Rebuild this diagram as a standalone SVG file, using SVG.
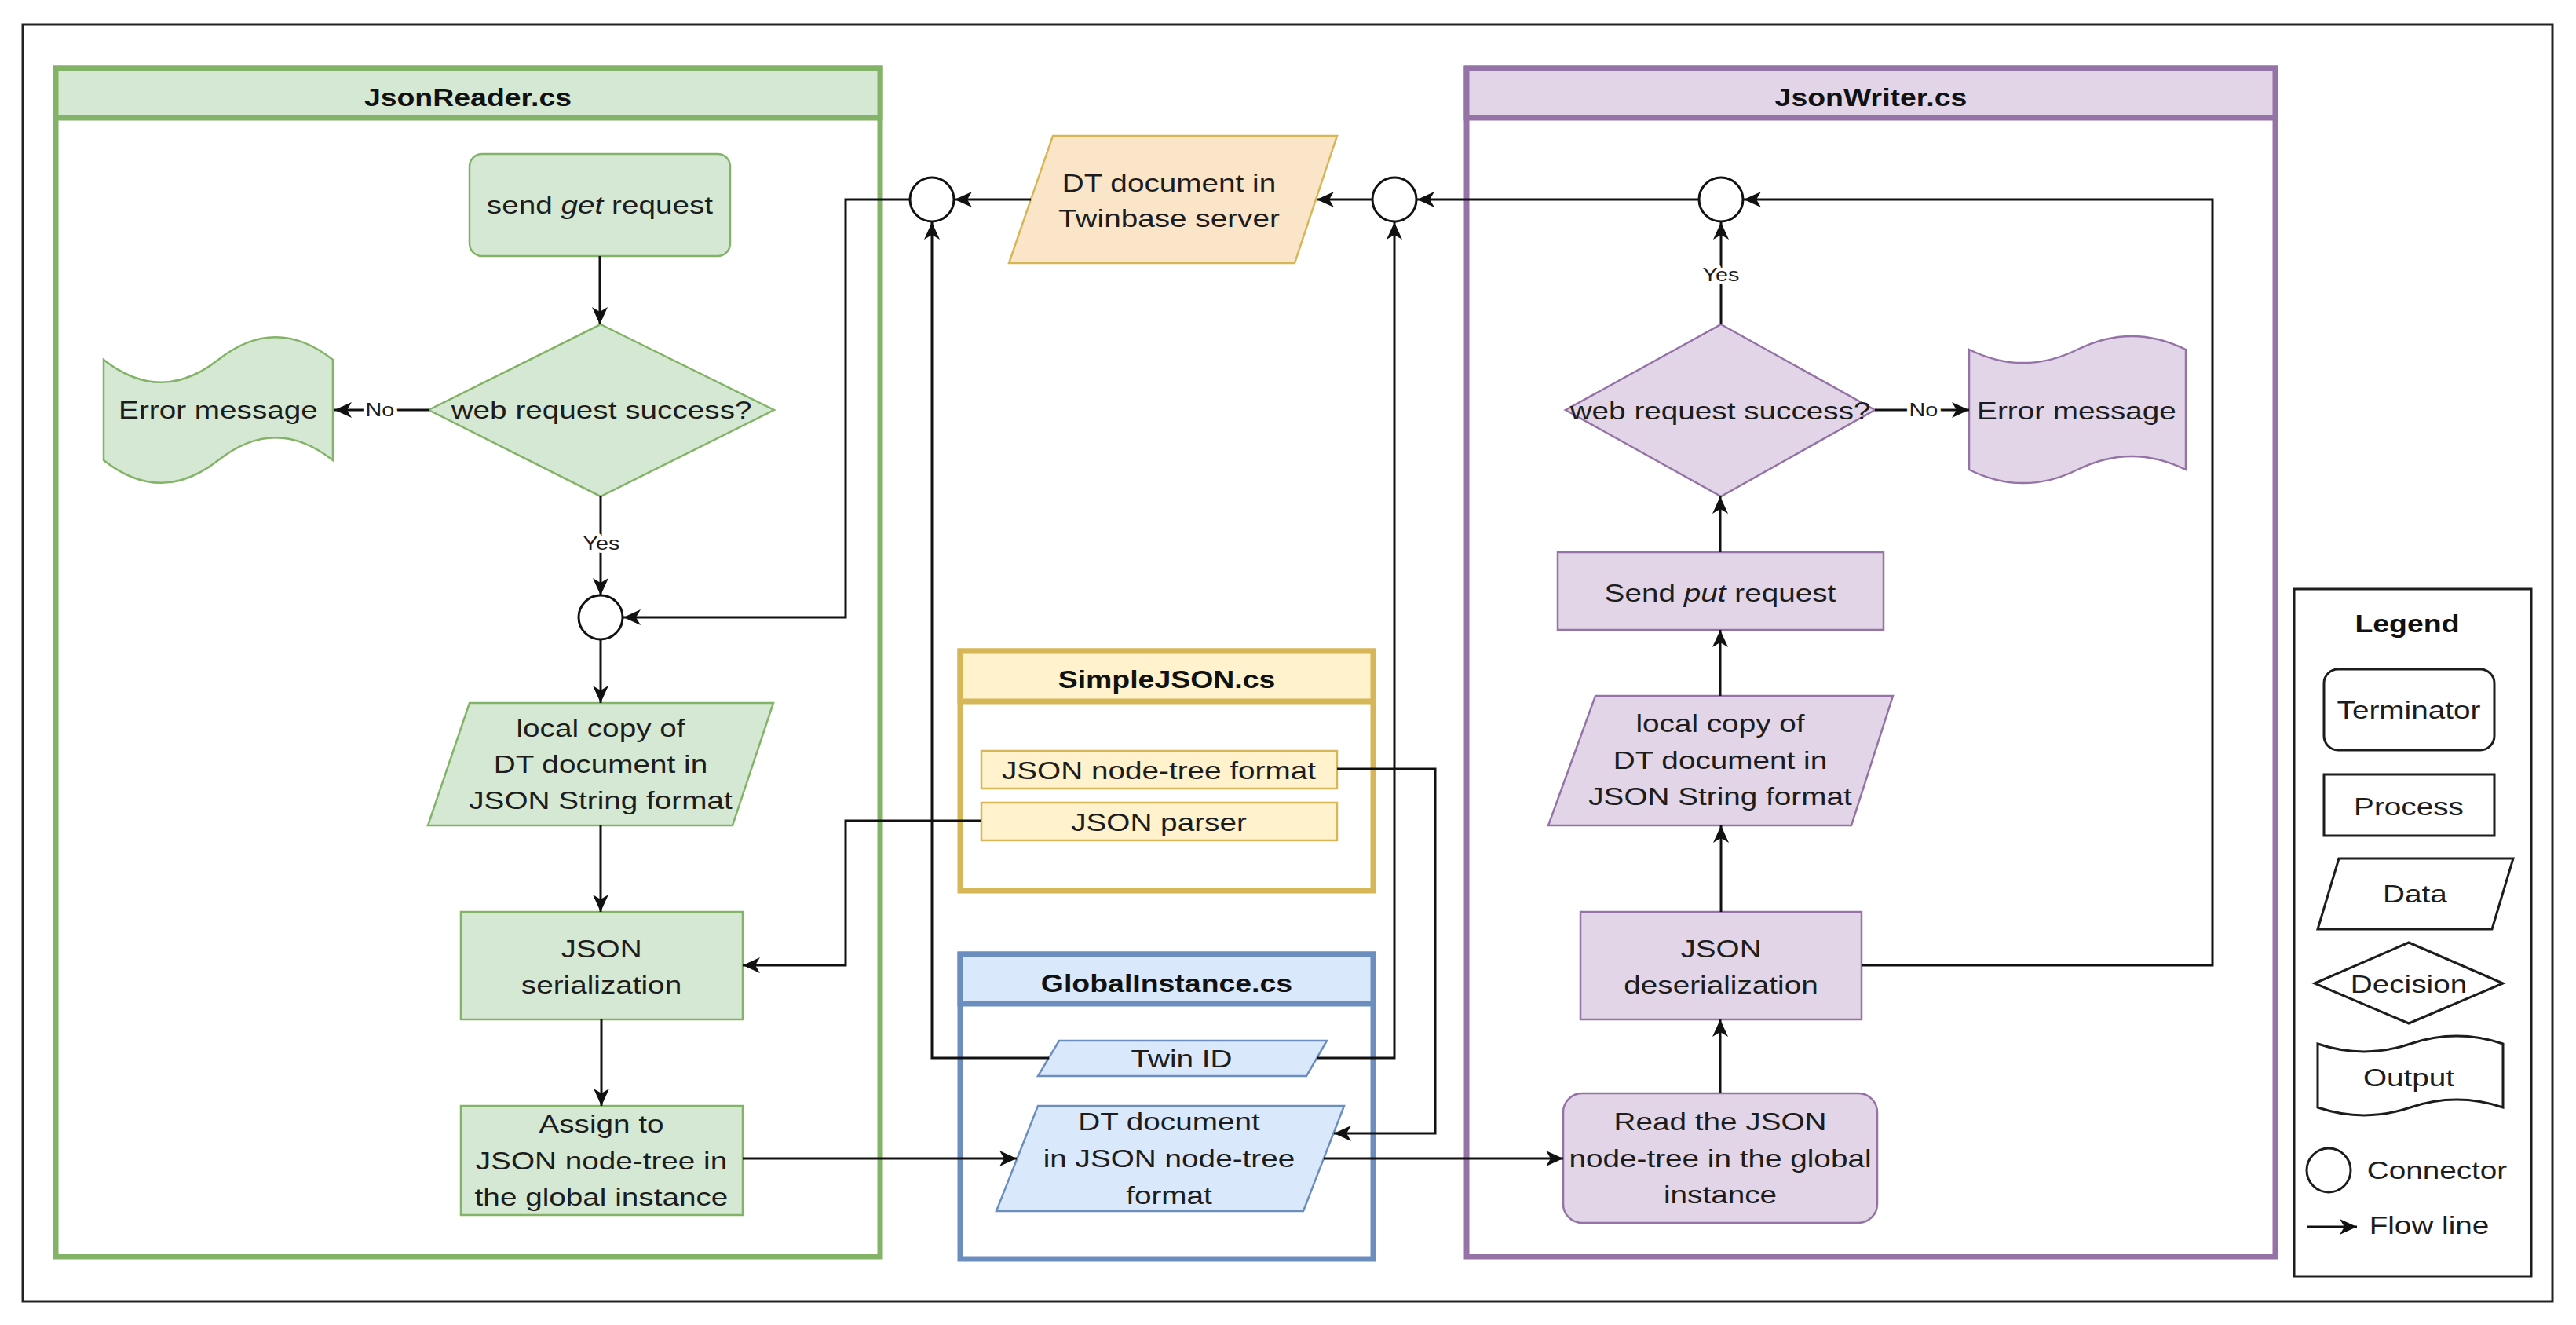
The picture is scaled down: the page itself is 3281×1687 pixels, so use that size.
<svg xmlns="http://www.w3.org/2000/svg" width="3281" height="1687" viewBox="0 0 3281 1687">
<defs>
<style>
text { font-family: "Liberation Sans", Arial, Helvetica, sans-serif; font-size: 32px; fill: #1d1d1d; text-anchor: middle; transform-box: fill-box; transform-origin: center; transform: scaleX(1.21); }
.title { font-weight: bold; font-size: 32px; fill: #111; transform: scaleX(1.17); }
.lbl { font-size: 24px; stroke: #ffffff; stroke-width: 8px; paint-order: stroke; stroke-linejoin: round; transform: scaleX(1.2); }
.g { fill: #d5e8d4; stroke: #82b366; stroke-width: 2.5; }
.p { fill: #e1d5e7; stroke: #9673a6; stroke-width: 2.5; }
.o { fill: #fbe5c8; stroke: #d6b656; stroke-width: 2.5; }
.y { fill: #fff2cc; stroke: #d6b656; stroke-width: 2.5; }
.b { fill: #dae8fc; stroke: #6c8ebf; stroke-width: 2.5; }
.cont { fill: #ffffff; stroke-width: 7; }
.leg { fill: #ffffff; stroke: #1d1d1d; stroke-width: 3; }
.conn { fill: #ffffff; stroke: #111; stroke-width: 3; }
.edge { fill: none; stroke: #111; stroke-width: 3; marker-end: url(#arr); }
</style>
<marker id="arr" markerUnits="userSpaceOnUse" markerWidth="24" markerHeight="22" viewBox="0 0 24 22" refX="22" refY="11" orient="auto">
<path d="M0,1 L22,11 L0,21 L6,11 Z" fill="#111"/>
</marker>
</defs>
<rect x="0" y="0" width="3281" height="1687" fill="#ffffff"/>
<rect id="frame" x="29" y="31" width="3222" height="1626" fill="none" stroke="#222" stroke-width="3"/>

<g id="JsonReader">
<rect class="cont" x="71" y="87" width="1050" height="1513" stroke="#82b366"/>
<rect x="71" y="87" width="1050" height="63" fill="#d5e8d4" stroke="#82b366" stroke-width="7"/>
<text class="title" x="596" y="135">JsonReader.cs</text>
</g>
<g id="JsonWriter">
<rect class="cont" x="1868" y="87" width="1030" height="1513" stroke="#9673a6"/>
<rect x="1868" y="87" width="1030" height="63" fill="#e1d5e7" stroke="#9673a6" stroke-width="7"/>
<text class="title" x="2383" y="135">JsonWriter.cs</text>
</g>
<g id="SimpleJSON">
<rect class="cont" x="1223" y="829" width="526" height="305" stroke="#d6b656"/>
<rect x="1223" y="829" width="526" height="64" fill="#fff2cc" stroke="#d6b656" stroke-width="7"/>
<text class="title" x="1486" y="876">SimpleJSON.cs</text>
</g>
<g id="GlobalInstance">
<rect class="cont" x="1223" y="1215" width="526" height="388" stroke="#6c8ebf"/>
<rect x="1223" y="1215" width="526" height="63" fill="#dae8fc" stroke="#6c8ebf" stroke-width="7"/>
<text class="title" x="1486" y="1263">GlobalInstance.cs</text>
</g>

<g id="send-get">
<rect class="g" x="598" y="196" width="332" height="130" rx="16"/>
<text x="764" y="272">send <tspan font-style="italic">get</tspan> request</text>
</g>
<g id="reader-decision">
<polygon class="g" points="765,413 986,522 765,632 546,522"/>
<text x="766" y="533">web request success?</text>
</g>
<g id="reader-error">
<path class="g" d="M132,458 Q205,515.6 278,458 Q351,400.4 424,458 L424,586 Q351,528.4 278,586 Q205,643.6 132,586 Z"/>
<text x="278" y="533">Error message</text>
</g>
<g id="reader-connector">
<circle class="conn" cx="765" cy="786" r="28"/>
</g>
<g id="reader-local-copy">
<polygon class="g" points="598,895 985,895 933,1051 545,1051"/>
<text x="765" y="938">local copy of<tspan x="765" dy="46">DT document in</tspan><tspan x="765" dy="46">JSON String format</tspan></text>
</g>
<g id="serialization">
<rect class="g" x="587" y="1161" width="359" height="137"/>
<text x="766" y="1219">JSON<tspan x="766" dy="46">serialization</tspan></text>
</g>
<g id="assign">
<rect class="g" x="587" y="1408" width="359" height="139"/>
<text x="766" y="1442">Assign to<tspan x="766" dy="47">JSON node-tree in</tspan><tspan x="766" dy="46">the global instance</tspan></text>
</g>

<g id="twinbase">
<polygon class="o" points="1341,173 1703,173 1649,335 1285,335"/>
<text x="1489" y="244">DT document in<tspan x="1489" dy="45">Twinbase server</tspan></text>
</g>
<g id="connector-left"><circle class="conn" cx="1187" cy="254" r="28"/></g>
<g id="connector-mid"><circle class="conn" cx="1776" cy="254" r="28"/></g>
<g id="connector-writer"><circle class="conn" cx="2192" cy="254" r="28"/></g>

<g id="node-tree-format">
<rect class="y" x="1250" y="956" width="453" height="48"/>
<text x="1476" y="992">JSON node-tree format</text>
</g>
<g id="json-parser">
<rect class="y" x="1250" y="1022" width="453" height="48"/>
<text x="1476" y="1058">JSON parser</text>
</g>
<g id="twin-id">
<polygon class="b" points="1349,1325 1690,1325 1664,1370 1322,1370"/>
<text x="1505" y="1359">Twin ID</text>
</g>
<g id="dt-node-tree">
<polygon class="b" points="1322,1408 1712,1408 1660,1542 1269,1542"/>
<text x="1489" y="1439">DT document<tspan x="1489" dy="47">in JSON node-tree</tspan><tspan x="1489" dy="47">format</tspan></text>
</g>

<g id="writer-decision">
<polygon class="p" points="2192,413 2388,522 2192,632 1994,522"/>
<text x="2191" y="534">web request success?</text>
</g>
<g id="writer-error">
<path class="p" d="M2508,445 Q2577,479.2 2646,445 Q2715,410.8 2784,445 L2784,598 Q2715,563.8 2646,598 Q2577,632.2 2508,598 Z"/>
<text x="2645" y="534">Error message</text>
</g>
<g id="send-put">
<rect class="p" x="1984" y="703" width="415" height="99"/>
<text x="2191" y="766">Send <tspan font-style="italic">put</tspan> request</text>
</g>
<g id="writer-local-copy">
<polygon class="p" points="2032,886 2411,886 2358,1051 1972,1051"/>
<text x="2191" y="932">local copy of<tspan x="2191" dy="47">DT document in</tspan><tspan x="2191" dy="46">JSON String format</tspan></text>
</g>
<g id="deserialization">
<rect class="p" x="2013" y="1161" width="358" height="137"/>
<text x="2192" y="1219">JSON<tspan x="2192" dy="46">deserialization</tspan></text>
</g>
<g id="read-node-tree">
<rect class="p" x="1991" y="1392" width="400" height="165" rx="24"/>
<text x="2191" y="1439">Read the JSON<tspan x="2191" dy="47">node-tree in the global</tspan><tspan x="2191" dy="46">instance</tspan></text>
</g>

<g id="legend">
<rect class="leg" x="2922" y="750" width="302" height="875"/>
<text class="title" x="3066" y="805">Legend</text>
<rect class="leg" x="2960" y="852" width="217" height="103" rx="18"/>
<text x="3068" y="915">Terminator</text>
<rect class="leg" x="2960" y="986" width="217" height="78"/>
<text x="3068" y="1038">Process</text>
<polygon class="leg" points="2979,1093 3201,1093 3174,1183 2952,1183"/>
<text x="3076" y="1149">Data</text>
<polygon class="leg" points="3068,1200 3188,1252 3068,1303 2948,1252"/>
<text x="3068" y="1264">Decision</text>
<path class="leg" d="M2952,1329 Q3011,1348.8 3070,1329 Q3129,1309.2 3188,1329 L3188,1410 Q3129,1390.2 3070,1410 Q3011,1429.8 2952,1410 Z"/>
<text x="3068" y="1383">Output</text>
<circle class="leg" cx="2966" cy="1490" r="28"/>
<text x="3104" y="1501">Connector</text>
<path class="edge" d="M2938,1562 H3002"/>
<text x="3094" y="1571">Flow line</text>
</g>

<g id="connectors">
<path class="edge" d="M764,326 V413"/>
<path class="edge" d="M546,522 H426"/>
<path class="edge" d="M765,632 V758"/>
<path class="edge" d="M765,814 V895"/>
<path class="edge" d="M765,1051 V1161"/>
<path class="edge" d="M766,1298 V1408"/>
<path class="edge" d="M1159,254 H1077 V786 H794"/>
<path class="edge" d="M1250,1045 H1077 V1229 H946"/>
<path class="edge" d="M946,1475 H1295"/>
<path class="edge" d="M1313,254 H1216"/>
<path class="edge" d="M1336,1347 H1187 V283"/>
<path class="edge" d="M1677,1347 H1776 V283"/>
<path class="edge" d="M1748,254 H1677"/>
<path class="edge" d="M2164,254 H1805"/>
<path class="edge" d="M2192,413 V283"/>
<path class="edge" d="M2371,1229 H2818 V254 H2221"/>
<path class="edge" d="M1703,979 H1828 V1443 H1699"/>
<path class="edge" d="M1686,1475 H1991"/>
<path class="edge" d="M2191,1392 V1298"/>
<path class="edge" d="M2192,1161 V1051"/>
<path class="edge" d="M2191,886 V802"/>
<path class="edge" d="M2191,703 V632"/>
<path class="edge" d="M2388,522 H2508"/>
<text class="lbl" x="484" y="530">No</text>
<text class="lbl" x="766" y="700">Yes</text>
<text class="lbl" x="2192" y="358">Yes</text>
<text class="lbl" x="2450" y="530">No</text>
</g>
</svg>
